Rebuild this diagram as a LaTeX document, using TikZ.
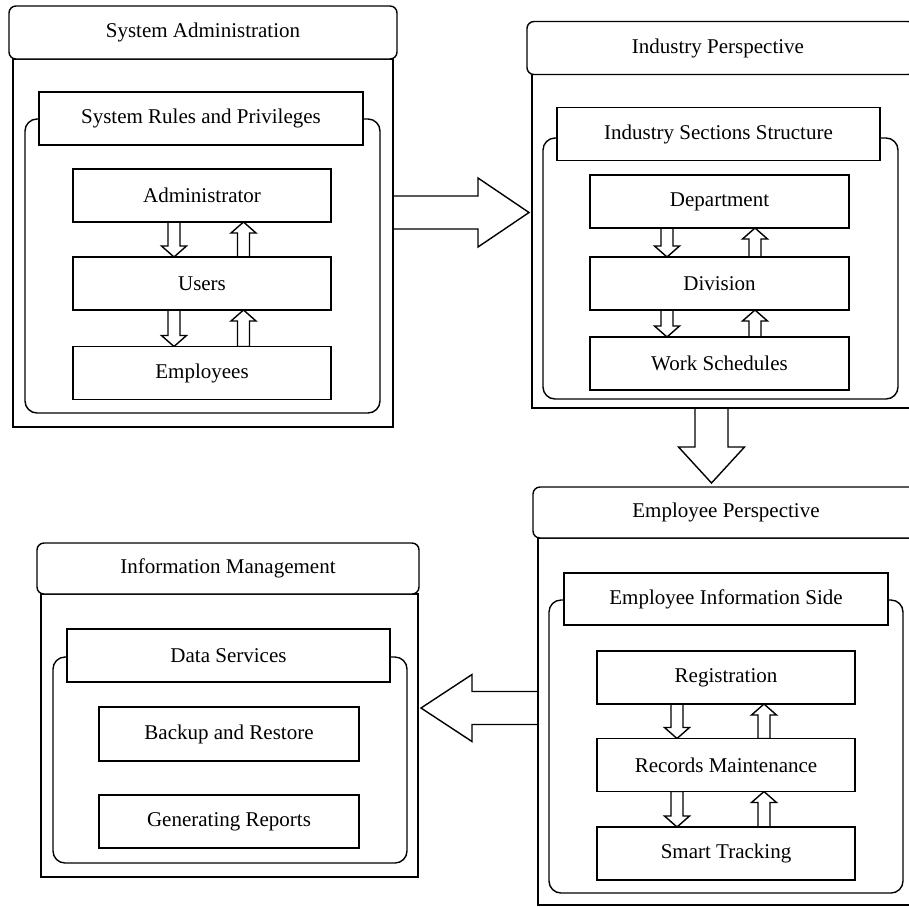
\documentclass[tikz,border=0pt]{standalone}
\usepackage{fontspec}
\setmainfont{Liberation Serif}
\usetikzlibrary{calc,backgrounds}
\tikzset{
  base/.style={draw, line width=1.4pt, inner sep=0pt, outer sep=0pt, font=\fontsize{21}{25}\selectfont, align=center},
  hdr/.style={base, rounded corners=7pt, fill=white},
  body/.style={base},
  grp/.style={base, rounded corners=12pt},
  ttl/.style={base, fill=white},
  item/.style={base, fill=white},
  blockarrow/.style n args={3}{draw, fill=white, line width=1.4pt, line join=miter,
    to path={let \p1=(\tikztostart), \p2=(\tikztotarget),
      \n1={atan2(\y2-\y1,\x2-\x1)}, \n2={veclen(\x2-\x1,\y2-\y1)} in
      ([shift={(\p1)},rotate=\n1]0pt,-#1) -- ([shift={(\p1)},rotate=\n1]\n2-#3,-#1)
      -- ([shift={(\p1)},rotate=\n1]\n2-#3,-#2) -- ([shift={(\p1)},rotate=\n1]\n2,0pt)
      -- ([shift={(\p1)},rotate=\n1]\n2-#3,#2) -- ([shift={(\p1)},rotate=\n1]\n2-#3,#1)
      -- ([shift={(\p1)},rotate=\n1]0pt,#1) -- cycle}},
  sarrow/.style={blockarrow={6pt}{12.5pt}{11pt}},
}
\begin{document}
\begin{tikzpicture}[x=1pt,y=-1pt]
\useasboundingbox (0,0) rectangle (909,906);
\clip (0,0) rectangle (909,906);

% Panel 1: System Administration
\node[body, minimum width=380pt, minimum height=368pt] (B1) at (203,243) {};
\node[hdr, minimum width=388pt, minimum height=53pt] (H1) at (203,32.5) {System Administration};
\node[grp, minimum width=355pt, minimum height=294pt] (R1) at (202.5,266) {};
\node[ttl, minimum width=324pt, minimum height=53pt] (T1) at (201,118.5) {System Rules and Privileges};
\node[item, minimum width=258pt, minimum height=53pt] (A1) at (202,195.5) {Administrator};
\node[item, minimum width=258pt, minimum height=53pt] (A2) at (202,283.5) {Users};
\node[item, minimum width=258pt, minimum height=53pt] (A3) at (202,373) {Employees};

% Panel 2: Industry Perspective
\node[body, minimum width=380pt, minimum height=334pt] (B2) at (722,241) {};
\node[hdr, minimum width=388pt, minimum height=53pt] (H2) at (721,48) {};
\node[base, draw=none] (H2t) at (718,48) {Industry Perspective};
\node[grp, minimum width=355pt, minimum height=261pt] (R2) at (720.5,268.5) {};
\node[ttl, minimum width=323pt, minimum height=53pt] (T2) at (718.5,134) {Industry Sections Structure};
\node[item, minimum width=259pt, minimum height=53pt] (D1) at (719.5,201.5) {Department};
\node[item, minimum width=259pt, minimum height=53pt] (D2) at (719.5,283.5) {Division};
\node[item, minimum width=259pt, minimum height=53pt] (D3) at (719.5,363.5) {Work Schedules};

% Panel 3: Employee Perspective
\node[body, minimum width=380pt, minimum height=367pt] (B3) at (728,721.5) {};
\node[hdr, minimum width=388pt, minimum height=51pt] (H3) at (727,512.5) {};
\node[base, draw=none] (H3t) at (726,512.5) {Employee Perspective};
\node[grp, minimum width=354pt, minimum height=293pt] (R3) at (726,746.5) {};
\node[ttl, minimum width=324pt, minimum height=52pt] (T3) at (726,599) {Employee Information Side};
\node[item, minimum width=258pt, minimum height=53pt] (E1) at (726,677.5) {Registration};
\node[item, minimum width=258pt, minimum height=53pt] (E2) at (726,765) {Records Maintenance};
\node[item, minimum width=258pt, minimum height=53pt] (E3) at (726,853.5) {Smart Tracking};

% Panel 4: Information Management
\node[body, minimum width=377pt, minimum height=283pt] (B4) at (229.5,735.5) {};
\node[hdr, minimum width=382pt, minimum height=51pt] (H4) at (228,568.5) {Information Management};
\node[grp, minimum width=354pt, minimum height=206pt] (R4) at (230,760) {};
\node[ttl, minimum width=323pt, minimum height=53pt] (T4) at (228.5,655.5) {Data Services};
\node[item, minimum width=260pt, minimum height=54pt] (G1) at (229,734) {Backup and Restore};
\node[item, minimum width=260pt, minimum height=53pt] (G2) at (229,821.5) {Generating Reports};

\begin{scope}[on background layer]
% small arrows panel 1
\draw[sarrow] ($(A1.south west)+(101,0)$) to ($(A2.north west)+(101,0)$);
\draw[sarrow] ($(A2.north west)+(170.5,0)$) to ($(A1.south west)+(170.5,0)$);
\draw[sarrow] ($(A2.south west)+(101,0)$) to ($(A3.north west)+(101,0)$);
\draw[sarrow] ($(A3.north west)+(170.5,0)$) to ($(A2.south west)+(170.5,0)$);

% small arrows panel 2
\draw[sarrow] ($(D1.south west)+(77,0)$) to ($(D2.north west)+(77,0)$);
\draw[sarrow] ($(D2.north west)+(165,0)$) to ($(D1.south west)+(165,0)$);
\draw[sarrow] ($(D2.south west)+(77,0)$) to ($(D3.north west)+(77,0)$);
\draw[sarrow] ($(D3.north west)+(165,0)$) to ($(D2.south west)+(165,0)$);

% small arrows panel 3
\draw[sarrow] ($(E1.south west)+(80,0)$) to ($(E2.north west)+(80,0)$);
\draw[sarrow] ($(E2.north west)+(167,0)$) to ($(E1.south west)+(167,0)$);
\draw[sarrow] ($(E2.south west)+(80,0)$) to ($(E3.north west)+(80,0)$);
\draw[sarrow] ($(E3.north west)+(167,0)$) to ($(E2.south west)+(167,0)$);

% big arrows between panels
\draw[blockarrow={16.5pt}{34.5pt}{51pt}] ($(B1.north east)+(0,153.5)$) to ($(B2.north west)+(-3,138.5)$);
\draw[blockarrow={16.5pt}{33pt}{36pt}] ($(B2.south west)+(179.5,0)$) to ($(H3.north west)+(178.5,-4)$);
\draw[blockarrow={16.5pt}{33.5pt}{51pt}] ($(B3.north west)+(0,170)$) to ($(B4.north east)+(3,114)$);
\end{scope}
\end{tikzpicture}
\end{document}
